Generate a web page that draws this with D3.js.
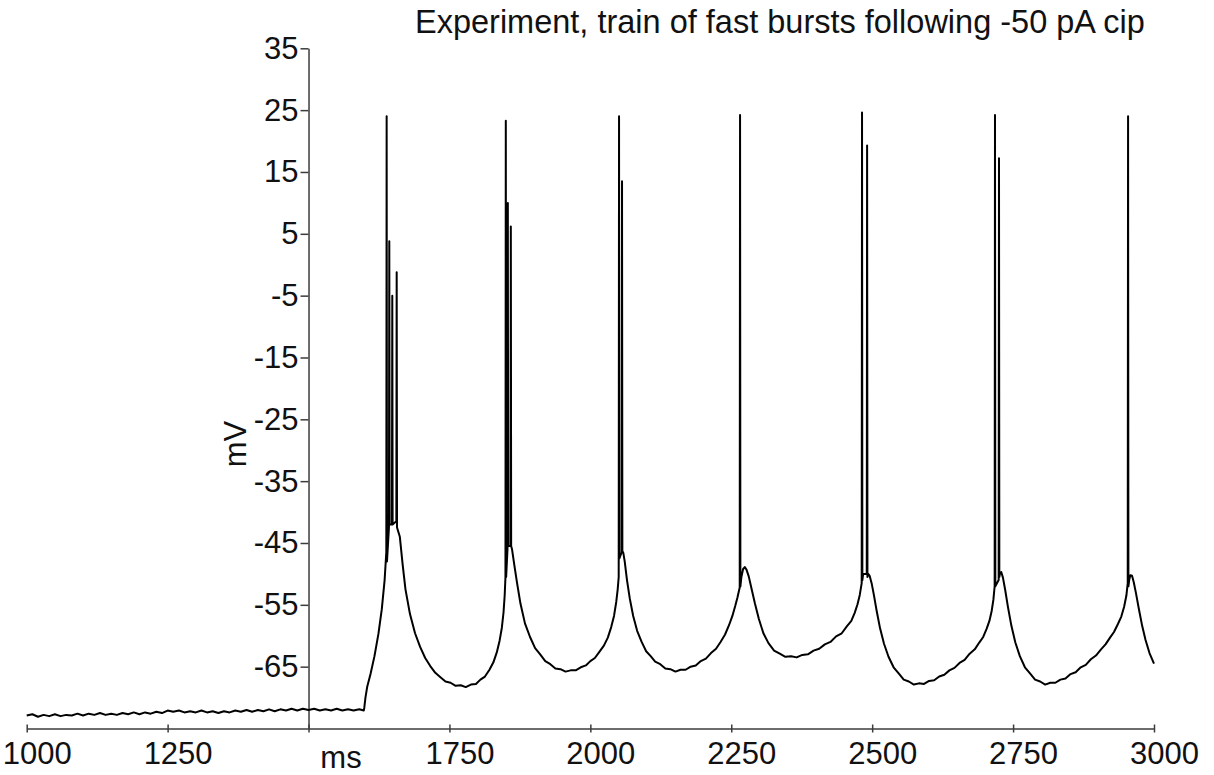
<!DOCTYPE html>
<meta charset="utf-8">
<style>
body { margin: 0; background: #fff; }
svg { font-family: "Liberation Sans", Arial, Helvetica, sans-serif; }
.trace { fill: none; stroke: #000; stroke-width: 2px; stroke-linejoin: round; }
.axis path, .axis line { stroke: #3c3c3c; stroke-width: 1.5px; }
.axis text { font-size: 31px; fill: #111; }
.label { font-size: 31px; fill: #111; }
</style>
<body>
<script src="https://d3js.org/d3.v7.min.js"></script>
<script>
// tick values
const xTicks = [1000, 1250, 1500, 1750, 2000, 2250, 2500, 2750, 3000];
const yTicks = [35, 25, 15, 5, -5, -15, -25, -35, -45, -55, -65];

const rest = [[1000,-72.9],[1010,-72.7],[1020,-73.1],[1030,-72.8],[1040,-73.0],[1050,-72.7],[1060,-73.0],
  [1070,-72.8],[1080,-72.9],[1090,-72.6],[1100,-72.9],[1110,-72.6],[1120,-72.8],[1130,-72.5],[1140,-72.8],
  [1150,-72.6],[1160,-72.8],[1170,-72.5],[1180,-72.7],[1190,-72.4],[1200,-72.7],[1210,-72.4],[1220,-72.6],
  [1230,-72.3],[1240,-72.5],[1250,-72.1],[1260,-72.3],[1270,-72.1],[1280,-72.4],[1290,-72.2],[1300,-72.4],
  [1310,-72.1],[1320,-72.4],[1330,-72.2],[1340,-72.5],[1350,-72.2],[1360,-72.4],[1370,-72.1],[1380,-72.3],
  [1390,-72.0],[1400,-72.3],[1410,-72.0],[1420,-72.2],[1430,-71.9],[1440,-72.2],[1450,-71.9],[1460,-72.1],
  [1470,-71.8],[1480,-72.1],[1490,-71.8],[1500,-72.0],[1510,-71.8],[1520,-72.1],[1530,-71.9],[1540,-72.1],
  [1550,-71.8],[1560,-72.1],[1570,-71.9],[1580,-72.1],[1590,-71.9],[1598,-72.1]];

const burst1 = [[1599,-71.6],[1601,-70.0],[1604,-68.3],[1610,-66.2],[1617,-63.3],[1624,-59.7],[1630,-55.7],
  [1635,-51.0],[1638,-46.5],[1638.6,24.0],[1639.2,-48.0],[1642.7,-42.5],[1643.3,3.8],[1643.9,-42.0],
  [1648.0,-42.0],[1648.6,-5.0],[1649.2,-42.0],[1655.8,-41.5],[1656.4,-1.2],[1657.0,-42.5],
  [1662,-44],[1667,-48.5],[1672,-52.5],[1680,-56.5],[1689,-59.6],[1698,-61.8],[1707,-63.6],[1716,-64.9],
  [1725,-66.0],[1734,-66.7],[1743,-67.4],[1752,-67.6],[1761,-68.1],[1770,-68.0],[1779,-68.3],[1788,-67.9],
  [1797,-67.8],[1805,-67.1],[1813,-66.6],[1821,-65.5],[1828,-64.3],[1834,-62.7],[1839,-60.8],[1843,-58.7],
  [1846,-56.2],[1848,-53.5],[1849.4,-50.5]];

const burst2 = [[1850.0,23.3],[1850.6,-50.5],[1853.0,-46],[1853.6,10],[1854.2,-45.5],[1858.3,-45.5],
  [1858.9,6.2],[1859.5,-45.5],[1861,-46],[1865,-48.5],[1870,-51.5],[1876,-54.8],[1884,-58],[1893,-60.2],
  [1902,-62],[1911,-63],[1920,-64.1],[1929,-64.6],[1938,-65.3],[1947,-65.4],[1956,-65.8],[1965,-65.6],
  [1974,-65.6],[1983,-65.1],[1992,-64.8],[2000,-64.1],[2008,-63.6],[2016,-62.6],[2024,-61.6],[2031,-60.3],
  [2037,-58.6],[2042,-56.8],[2046,-54.5],[2048.5,-52.5],[2050.3,-50.5]];

const burst3 = [[2050.9,24],[2051.5,-47.5],[2055.6,-46.5],[2056.2,13.5],[2056.8,-46.3],[2058.5,-46.6],
  [2061,-48],[2065,-51],[2070,-54],[2076,-56.8],[2083,-59.2],[2091,-61],[2099,-62.5],[2107,-63.3],
  [2115,-64.2],[2124,-64.6],[2133,-65.3],[2142,-65.4],[2151,-65.8],[2160,-65.5],[2169,-65.5],[2178,-65.0],
  [2187,-64.8],[2196,-64.1],[2205,-63.7],[2214,-62.8],[2223,-62.1],[2231,-61.0],[2239,-59.8],[2246,-58.3],
  [2252,-56.8],[2257,-55.2],[2261,-53.8],[2265.0,-52.2]];

const spike4 = [[2265.6,24.2],[2266.2,-52],[2268,-50.5],[2271,-49.2],[2274,-48.9],[2277,-49.3],[2281,-50.4],
  [2286,-52.4],[2292,-54.8],[2299,-57.3],[2307,-59.6],[2316,-61.2],[2326,-62.4],[2336,-62.9],[2346,-63.4],
  [2356,-63.3],[2366,-63.5],[2376,-63.1],[2386,-63.0],[2396,-62.4],[2406,-62.1],[2416,-61.4],[2426,-61.0],
  [2436,-60.1],[2446,-59.6],[2455,-58.5],[2463,-57.6],[2469,-56.3],[2474,-54.9],[2478,-53.4],[2481.4,-51.5]];

const burst5 = [[2482,24.6],[2482.6,-51],[2484,-50],[2490.4,-50],[2491,19.3],[2491.6,-50.5],[2493,-50],
  [2495.5,-50.3],[2499,-51.5],[2503,-53.4],[2508,-56],[2514,-58.8],[2521,-61.3],[2529,-63.4],[2538,-65.1],
  [2547,-66.1],[2556,-67.1],[2565,-67.4],[2574,-67.9],[2583,-67.7],[2592,-67.8],[2601,-67.3],[2610,-67.2],
  [2619,-66.6],[2628,-66.3],[2637,-65.6],[2646,-65.2],[2655,-64.4],[2664,-63.9],[2673,-62.9],[2682,-62.2],
  [2690,-61.1],[2697,-60.2],[2703,-58.9],[2708,-57.6],[2712,-56],[2715,-54.2],[2717.3,-52]];

const burst6 = [[2717.9,24.2],[2718.5,-52],[2724.4,-51],[2725,17.2],[2725.6,-50.5],[2727,-49.8],
  [2729,-49.7],[2732,-50.6],[2736,-52.6],[2741,-55.4],[2747,-58.4],[2754,-61.1],[2762,-63.3],[2771,-65.1],
  [2780,-66.1],[2789,-67.1],[2798,-67.4],[2807,-67.9],[2816,-67.6],[2825,-67.6],[2834,-67.1],[2843,-66.9],
  [2852,-66.2],[2861,-65.9],[2870,-65.1],[2879,-64.7],[2888,-63.8],[2897,-63.2],[2906,-62.2],[2914,-61.4],
  [2922,-60.3],[2929,-59.4],[2936,-58.1],[2942,-56.9],[2947,-55.3],[2951,-53.5],[2953.4,-51.5]];

const spike7 = [[2954,24],[2954.6,-52],[2956,-51],[2958,-50.2],[2961,-50.3],[2964,-51.3],[2968,-53.1],
  [2973,-55.6],[2979,-58.4],[2985,-60.7],[2992,-62.8],[3000,-64.5]];

const trace = [].concat(rest, burst1, burst2, burst3, spike4, burst5, burst6, spike7);

const width = 1214, height = 775;
const svg = d3.select("body").append("svg")
  .attr("width", width)
  .attr("height", height);

const x = d3.scaleLinear().domain([1000, 3000]).range([26.7, 1154]);
const y = d3.scaleLinear().domain([-75, 35]).range([728.5, 48.3]);

// x axis along the bottom, 1500 has no number (the "ms" label sits there)
const gx = svg.append("g")
  .attr("class", "axis")
  .attr("transform", `translate(0,${y(-75)})`)
  .call(d3.axisBottom(x).tickValues(xTicks).tickSizeInner(4).tickSizeOuter(0)
    .tickFormat(d => d === 1500 ? "" : String(d)));
gx.selectAll(".tick line").attr("y1", -4).attr("y2", 4);
gx.selectAll(".tick text").attr("x", 10).attr("y", 35).attr("dy", 0);

// y axis crosses at 1500 ms
const gy = svg.append("g")
  .attr("class", "axis")
  .attr("transform", `translate(${x(1500)},0)`)
  .call(d3.axisLeft(y).tickValues(yTicks).tickSizeInner(8).tickSizeOuter(0).tickPadding(2)
    .tickFormat(d => String(d)));

svg.append("path")
  .datum(trace)
  .attr("class", "trace")
  .attr("d", d3.line().x(d => x(d[0])).y(d => y(d[1])));

svg.append("text")
  .attr("class", "label")
  .style("font-size", "32.5px")
  .attr("x", 415)
  .attr("y", 33)
  .text("Experiment, train of fast bursts following -50 pA cip");

svg.append("text")
  .attr("class", "label")
  .attr("text-anchor", "middle")
  .attr("x", 341)
  .attr("y", 768)
  .text("ms");

svg.append("text")
  .attr("class", "label")
  .attr("text-anchor", "middle")
  .attr("transform", "translate(246,444) rotate(-90)")
  .text("mV");
</script>
</body>
